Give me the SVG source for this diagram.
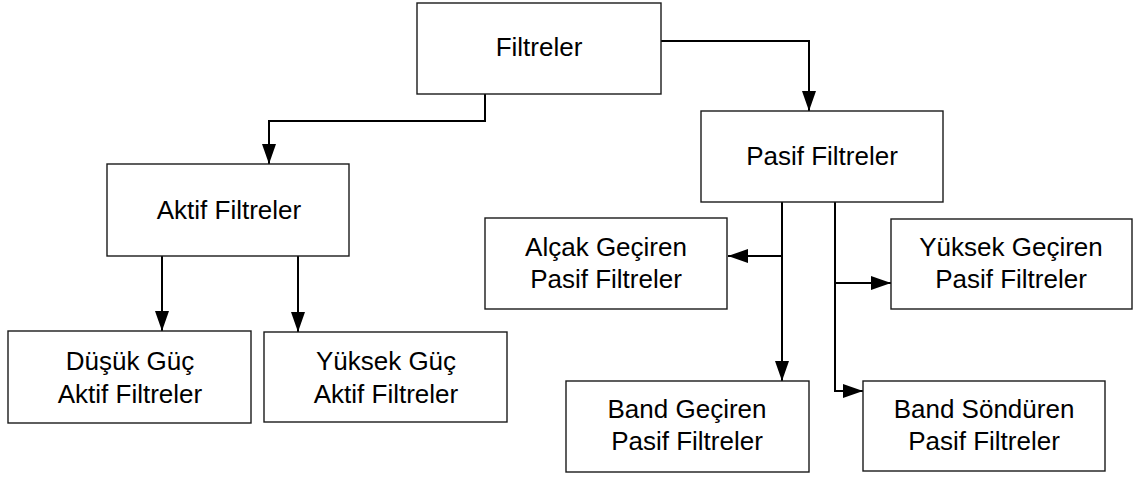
<svg xmlns="http://www.w3.org/2000/svg" width="1136" height="477" viewBox="0 0 1136 477">
  <style>
    .box { fill: #ffffff; stroke: #1a1a1a; stroke-width: 1.4; }
    .lbl { font-family: "Liberation Sans", Arial, sans-serif; font-size: 26px; fill: #000000; text-anchor: middle; }
    .conn { fill: none; stroke: #000000; stroke-width: 2; }
  </style>
  <defs>
    <marker id="arrow" markerUnits="userSpaceOnUse" markerWidth="20" markerHeight="14" refX="20" refY="7" orient="auto">
      <path d="M0,0 L20,7 L0,14 Z" fill="#000000"/>
    </marker>
  </defs>
  <rect width="1136" height="477" fill="#ffffff"/>

  <!-- connectors -->
  <g id="connectors">
    <path class="conn" d="M485,94 V121 H269 V164" marker-end="url(#arrow)"/>
    <path class="conn" d="M661,41 H809 V111" marker-end="url(#arrow)"/>
    <path class="conn" d="M162,256 V331" marker-end="url(#arrow)"/>
    <path class="conn" d="M298,256 V332" marker-end="url(#arrow)"/>
    <path class="conn" d="M782,202 V381" marker-end="url(#arrow)"/>
    <path class="conn" d="M782,256 H728" marker-end="url(#arrow)"/>
    <path class="conn" d="M835,202 V391 H863" marker-end="url(#arrow)"/>
    <path class="conn" d="M835,283 H891" marker-end="url(#arrow)"/>
  </g>

  <!-- nodes -->
  <g id="filtreler">
    <rect class="box" x="417" y="3" width="244" height="91"/>
    <text class="lbl" x="539" y="56">Filtreler</text>
  </g>
  <g id="aktif-filtreler">
    <rect class="box" x="107" y="164" width="242" height="92"/>
    <text class="lbl" x="229" y="219">Aktif Filtreler</text>
  </g>
  <g id="pasif-filtreler">
    <rect class="box" x="701" y="111" width="242" height="91"/>
    <text class="lbl" x="822" y="165">Pasif Filtreler</text>
  </g>
  <g id="dusuk-guc">
    <rect class="box" x="8" y="331" width="243" height="92"/>
    <text class="lbl" x="130" y="370">Düşük Güç</text>
    <text class="lbl" x="130" y="403">Aktif Filtreler</text>
  </g>
  <g id="yuksek-guc">
    <rect class="box" x="264" y="332" width="243" height="90"/>
    <text class="lbl" x="386" y="370">Yüksek Güç</text>
    <text class="lbl" x="386" y="403">Aktif Filtreler</text>
  </g>
  <g id="alcak-geciren">
    <rect class="box" x="485" y="218" width="242" height="91"/>
    <text class="lbl" x="606" y="256">Alçak Geçiren</text>
    <text class="lbl" x="606" y="288">Pasif Filtreler</text>
  </g>
  <g id="yuksek-geciren">
    <rect class="box" x="891" y="219" width="241" height="90"/>
    <text class="lbl" x="1011" y="256">Yüksek Geçiren</text>
    <text class="lbl" x="1011" y="288">Pasif Filtreler</text>
  </g>
  <g id="band-geciren">
    <rect class="box" x="566" y="381" width="243" height="91"/>
    <text class="lbl" x="687" y="418">Band Geçiren</text>
    <text class="lbl" x="687" y="450">Pasif Filtreler</text>
  </g>
  <g id="band-sonduren">
    <rect class="box" x="863" y="381" width="242" height="90"/>
    <text class="lbl" x="984" y="418">Band Söndüren</text>
    <text class="lbl" x="984" y="450">Pasif Filtreler</text>
  </g>
</svg>
